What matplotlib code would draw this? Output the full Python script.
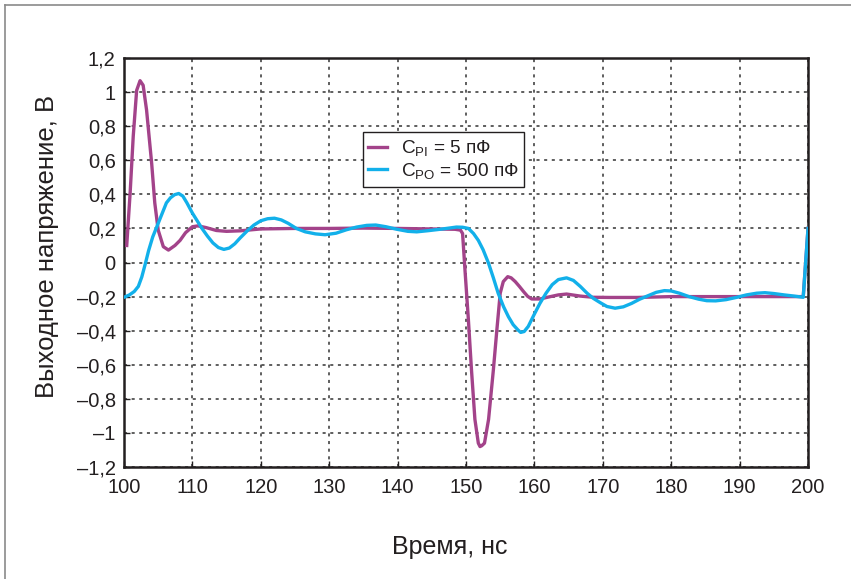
import matplotlib
matplotlib.use("Agg")
import matplotlib.pyplot as plt
from matplotlib.lines import Line2D

plt.rcParams["font.family"] = ["Liberation Sans", "DejaVu Sans"]
plt.rcParams["mathtext.fontset"] = "custom"
plt.rcParams["mathtext.rm"] = "Liberation Sans"

PURPLE = "#A3438A"
CYAN = "#12B0EA"
INK = "#231F20"

# C_PI = 5 pF trace (time ns, volts)
t_pi = [100.4, 100.9, 101.35, 101.85, 102.35, 102.8, 103.3, 104.05, 104.5, 105.0,
        105.75, 106.5, 107.45, 108.2, 109.0, 110.0, 110.8, 112.0, 113.5,
        115.0, 117.0, 120.0, 125.0, 130.0, 135.0, 140.0, 145.0, 148.4, 149.2,
        149.5, 149.85, 150.35, 150.8, 151.3, 151.8, 152.05, 152.3, 152.7, 153.3,
        154.0, 154.5, 155.0, 155.45, 156.1, 156.6, 157.2, 157.8, 158.4, 159.0,
        159.6, 160.8, 162.0, 163.5, 164.7, 166.7, 168.6, 171.0, 175.0, 180.0,
        185.0, 190.0, 195.0, 199.3, 200.0]
v_pi = [0.10, 0.41, 0.74, 1.01, 1.067, 1.04, 0.895, 0.58, 0.35, 0.19,
        0.093, 0.073, 0.10, 0.13, 0.175, 0.21, 0.215, 0.205, 0.188,
        0.183, 0.186, 0.197, 0.20, 0.20, 0.202, 0.20, 0.197, 0.195, 0.19,
        0.17, -0.044, -0.337, -0.63, -0.92, -1.06, -1.08, -1.075, -1.06, -0.92,
        -0.63, -0.40, -0.18, -0.112, -0.083, -0.09, -0.112, -0.14, -0.17, -0.198,
        -0.214, -0.214, -0.203, -0.19, -0.185, -0.197, -0.204, -0.205, -0.205, -0.20,
        -0.20, -0.20, -0.20, -0.20, 0.20]

# C_PO = 500 pF trace
t_po = [100.0, 100.8, 101.5, 102.1, 102.6, 103.1, 103.6, 104.2, 104.8, 105.4,
        106.2, 106.8, 107.4, 108.0, 108.6, 109.2, 110.0, 110.7, 111.4, 112.2,
        113.0, 113.8, 114.6, 115.4, 116.2, 117.0, 118.0, 119.0, 120.0, 121.0,
        122.0, 123.0, 124.0, 125.2, 126.5, 128.0, 129.4, 131.0, 132.5, 134.0,
        135.5, 136.8, 138.3, 139.9, 141.5, 142.8, 144.5, 146.2, 147.7, 148.6,
        149.5, 150.35, 151.1, 151.8, 152.5, 153.3, 154.0, 154.7, 155.5, 156.2,
        156.9, 157.6, 158.0, 158.5, 159.1, 159.9, 160.8, 161.7, 162.6, 163.5,
        164.7, 165.7, 166.7, 167.7, 168.6, 169.6, 170.6, 171.8, 173.0, 174.2,
        175.4, 176.6, 177.8, 179.0, 180.0, 181.2, 182.6, 184.0, 185.2, 186.5,
        188.0, 189.5, 191.0, 192.5, 193.7, 195.0, 196.5, 198.0, 199.3, 200.0]
v_po = [-0.204, -0.19, -0.17, -0.14, -0.085, -0.01, 0.07, 0.15, 0.21, 0.27,
        0.35, 0.38, 0.398, 0.405, 0.39, 0.35, 0.29, 0.245, 0.20, 0.155,
        0.115, 0.088, 0.077, 0.085, 0.11, 0.145, 0.185, 0.22, 0.245, 0.257,
        0.26, 0.25, 0.23, 0.20, 0.18, 0.168, 0.163, 0.172, 0.192, 0.208,
        0.218, 0.22, 0.21, 0.195, 0.183, 0.18, 0.187, 0.195, 0.203, 0.208,
        0.207, 0.20, 0.17, 0.13, 0.075, -0.005, -0.09, -0.18, -0.26, -0.318,
        -0.365, -0.396, -0.41, -0.405, -0.375, -0.31, -0.24, -0.18, -0.13, -0.10,
        -0.09, -0.105, -0.14, -0.18, -0.21, -0.235, -0.258, -0.268, -0.26, -0.24,
        -0.215, -0.195, -0.175, -0.165, -0.167, -0.18, -0.20, -0.215, -0.224, -0.225,
        -0.218, -0.205, -0.19, -0.18, -0.177, -0.182, -0.19, -0.197, -0.204, 0.20]

x_ticks = [100, 110, 120, 130, 140, 150, 160, 170, 180, 190, 200]
y_ticks = [1.2, 1.0, 0.8, 0.6, 0.4, 0.2, 0.0, -0.2, -0.4, -0.6, -0.8, -1.0, -1.2]
y_labels = ["1,2", "1", "0,8", "0,6", "0,4", "0,2", "0",
            "\u2013" + "0,2", "\u2013" + "0,4", "\u2013" + "0,6",
            "\u2013" + "0,8", "\u2013" + "1", "\u2013" + "1,2"]

fig = plt.figure(figsize=(8.51, 5.79), dpi=100, facecolor="white")
ax = fig.add_axes([0.1457, 0.1934, 0.8038, 0.7064])

# outer frame of the figure
fig.add_artist(Line2D([5 / 851, 1], [1 - 5 / 579] * 2, color="#8A8A8A",
                      lw=1.2, transform=fig.transFigure))
fig.add_artist(Line2D([5 / 851] * 2, [0, 1 - 5 / 579], color="#8A8A8A",
                      lw=1.2, transform=fig.transFigure))

ax.plot(t_pi, v_pi, color=PURPLE, lw=2.4, solid_joinstyle="round",
        label="$\\mathregular{C_{PI}}$ = 5 пФ", zorder=3)
ax.plot(t_po, v_po, color=CYAN, lw=2.4, solid_joinstyle="round",
        label="$\\mathregular{C_{PO}}$ = 500 пФ", zorder=4)

ax.set_xlim(100, 200)
ax.set_ylim(-1.2, 1.2)
ax.set_xticks(x_ticks)
ax.set_xticklabels([str(x) for x in x_ticks])
ax.set_yticks(y_ticks)
ax.set_yticklabels(y_labels)
ax.tick_params(direction="in", length=4, width=1, colors=INK, labelsize=14.5)
ax.tick_params(axis="x", pad=8)
ax.tick_params(axis="y", pad=6)

ax.grid(True, color="#333333", linestyle=(0, (2, 3)), linewidth=1.1)
for s in ax.spines.values():
    s.set_linewidth(1.8)
    s.set_color(INK)

ax.set_xlabel("Время, нс", fontsize=18, color=INK, va="center")
ax.xaxis.set_label_coords(0.4766, -0.1956)
ax.set_ylabel("Выходное напряжение, В", fontsize=18.5, color=INK)
ax.yaxis.set_label_coords(-0.095, 0.54)

leg = ax.legend(loc="upper left", bbox_to_anchor=(0.349, 0.818),
                fontsize=13.7, frameon=True, fancybox=False, framealpha=1,
                edgecolor=INK, handlelength=1.0, handletextpad=0.7,
                borderpad=0.3, labelspacing=0.15, borderaxespad=0)
leg.get_frame().set_linewidth(1.0)
for t in leg.get_texts():
    t.set_color(INK)

fig.savefig("out.png", dpi=100, facecolor="white")
